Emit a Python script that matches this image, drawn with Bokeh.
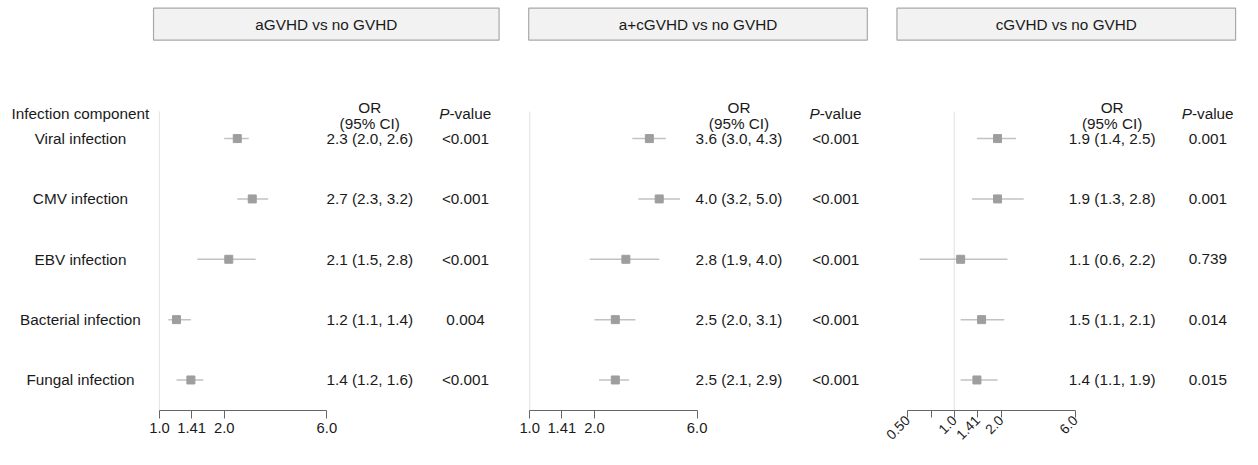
import math
from bokeh.plotting import figure
from bokeh.models import Range1d, LinearScale, LogScale, LogAxis, FixedTicker, ColumnDataSource
from bokeh.core.properties import value
from bokeh.embed import file_html
from bokeh.resources import INLINE

# ---------------- data ----------------
components = ["Viral infection", "CMV infection", "EBV infection",
              "Bacterial infection", "Fungal infection"]
panel_titles = ["aGVHD vs no GVHD", "a+cGVHD vs no GVHD", "cGVHD vs no GVHD"]

a_or = [2.3, 2.7, 2.1, 1.2, 1.4]
a_lo = [2.0, 2.3, 1.5, 1.1, 1.2]
a_hi = [2.6, 3.2, 2.8, 1.4, 1.6]
a_p = ["<0.001", "<0.001", "<0.001", "0.004", "<0.001"]

ac_or = [3.6, 4.0, 2.8, 2.5, 2.5]
ac_lo = [3.0, 3.2, 1.9, 2.0, 2.1]
ac_hi = [4.3, 5.0, 4.0, 3.1, 2.9]
ac_p = ["<0.001", "<0.001", "<0.001", "<0.001", "<0.001"]

c_or = [1.9, 1.9, 1.1, 1.5, 1.4]
c_lo = [1.4, 1.3, 0.6, 1.1, 1.1]
c_hi = [2.5, 2.8, 2.2, 2.1, 1.9]
c_p = ["0.001", "0.001", "0.739", "0.014", "0.015"]

ticks_ac = [1.0, 1.41, 2.0, 6.0]
tick_labels_ac = ["1.0", "1.41", "2.0", "6.0"]
ticks_c = [0.5, 0.71, 1.0, 1.41, 2.0, 6.0]
tick_labels_c = ["0.50", "", "1.0", "1.41", "2.0", "6.0"]

# ---------------- layout (in reference-image pixel units) ----------------
FONT = value("Liberation Sans")
FS = "15.3px"
TXT = "#1a1a1a"
REF_W, REF_H = 1258, 465
FIG_W, FIG_H = 1242, 449
ROW0, ROW_STEP = 143, 62.5
AXIS_Y = 425

panels = [
    dict(name="p1", anchor=161, ppl=65.6, orv=a_or, lo=a_lo, hi=a_hi, pv=a_p,
         ticks=ticks_ac, labels=tick_labels_ac, box=(155, 505), or_x=374, p_x=471, rot=0),
    dict(name="p2", anchor=536, ppl=65.6, orv=ac_or, lo=ac_lo, hi=ac_hi, pv=ac_p,
         ticks=ticks_ac, labels=tick_labels_ac, box=(535, 878), or_x=748, p_x=846, rot=0),
    dict(name="p3", anchor=966, ppl=47.4, orv=c_or, lo=c_lo, hi=c_hi, pv=c_p,
         ticks=ticks_c, labels=tick_labels_c, box=(908, 1251), or_x=1126, p_x=1223, rot=math.pi / 4),
]

n = len(components)
rows_start = (n - 1) + (REF_H - (ROW0 + ROW_STEP * (n - 1))) / ROW_STEP
rows_end = -ROW0 / ROW_STEP

p = figure(width=FIG_W, height=FIG_H,
           x_range=Range1d(0, REF_W), y_range=Range1d(REF_H, 0),
           x_axis_type=None, y_axis_type=None,
           toolbar_location=None, output_backend="svg", min_border=0)
p.outline_line_color = None
p.background_fill_color = "white"

extra_x = {}
extra_xs = {}
for pn in panels:
    extra_x[pn["name"]] = Range1d(2 ** ((0 - pn["anchor"]) / pn["ppl"]),
                                  2 ** ((REF_W - pn["anchor"]) / pn["ppl"]))
    extra_xs[pn["name"]] = LogScale()
p.extra_x_ranges = extra_x
p.extra_x_scales = extra_xs
p.extra_y_ranges = {"rows": Range1d(rows_start, rows_end)}
p.extra_y_scales = {"rows": LinearScale()}

idx = list(range(n))

# left column
p.text(x=[81], y=[117], text=["Infection component"], text_font=FONT, text_font_size=FS,
       text_color=TXT, text_align="center", text_baseline="middle")
p.text(x=[81] * n, y=idx, text=components, y_range_name="rows",
       text_font=FONT, text_font_size=FS, text_color=TXT,
       text_align="center", text_baseline="middle")

# header boxes
p.quad(left=[pn["box"][0] for pn in panels], right=[pn["box"][1] for pn in panels],
       top=8, bottom=41, fill_color="#f2f2f2", line_color="#a8a8a8", line_width=1.2)
p.text(x=[(pn["box"][0] + pn["box"][1]) / 2 for pn in panels], y=[24.5] * 3, text=panel_titles,
       text_font=FONT, text_font_size=FS, text_color=TXT,
       text_align="center", text_baseline="middle")

for pn in panels:
    nm = pn["name"]
    # column headers
    p.text(x=[pn["or_x"], pn["or_x"]], y=[111, 127], text=["OR", "(95% CI)"],
           text_font=FONT, text_font_size=FS, text_color=TXT,
           text_align="center", text_baseline="middle")
    left = pn["p_x"] - 26.6
    p.text(x=[left], y=[117], text=["P"], text_font=FONT, text_font_size=FS,
           text_font_style="italic", text_color=TXT, text_align="left", text_baseline="middle")
    p.text(x=[left + 10.4], y=[117], text=["-value"], text_font=FONT, text_font_size=FS,
           text_color=TXT, text_align="left", text_baseline="middle")

    # reference line at OR = 1
    p.segment(x0=[1.0], x1=[1.0], y0=[115], y1=[AXIS_Y], x_range_name=nm,
              line_color="#e6e6e6", line_width=1.2)

    src = ColumnDataSource(dict(y=idx, orv=pn["orv"], lo=pn["lo"], hi=pn["hi"],
                                ort=[f"{o:.1f} ({l:.1f}, {h:.1f})" for o, l, h in zip(pn["orv"], pn["lo"], pn["hi"])],
                                pv=pn["pv"], xo=[pn["or_x"]] * n, xp=[pn["p_x"]] * n))
    p.segment(x0="lo", x1="hi", y0="y", y1="y", source=src, x_range_name=nm,
              y_range_name="rows", line_color="#c2c2c2", line_width=1.5)
    p.scatter(x="orv", y="y", source=src, x_range_name=nm, y_range_name="rows",
              marker="square", size=8, fill_color="#9e9e9e", line_color="#9e9e9e")
    p.text(x="xo", y="y", text="ort", source=src, y_range_name="rows",
           text_font=FONT, text_font_size=FS, text_color=TXT,
           text_align="center", text_baseline="middle")
    p.text(x="xp", y="y", text="pv", source=src, y_range_name="rows",
           text_font=FONT, text_font_size=FS, text_color=TXT,
           text_align="center", text_baseline="middle")

    ax = LogAxis(x_range_name=nm, ticker=FixedTicker(ticks=pn["ticks"]),
                 major_label_overrides={t: l for t, l in zip(pn["ticks"], pn["labels"])},
                 bounds=(min(pn["ticks"]), max(pn["ticks"])), fixed_location=AXIS_Y)
    ax.axis_line_color = "#666666"
    ax.major_tick_line_color = "#666666"
    ax.major_tick_in = 0
    ax.minor_tick_out = 0
    ax.minor_tick_in = 0
    ax.minor_tick_line_color = None
    ax.major_label_text_font = "Liberation Sans"
    ax.major_label_text_color = TXT
    if pn["rot"]:
        ax.major_tick_out = 7
        ax.major_label_standoff = 0
        ax.major_label_text_font_size = "13.8px"
        ax.major_label_orientation = pn["rot"]
    else:
        ax.major_tick_out = 8
        ax.major_label_standoff = 4
        ax.major_label_text_font_size = "14.8px"
    p.add_layout(ax, "below")

open("out.html", "w").write(file_html(p, INLINE))
